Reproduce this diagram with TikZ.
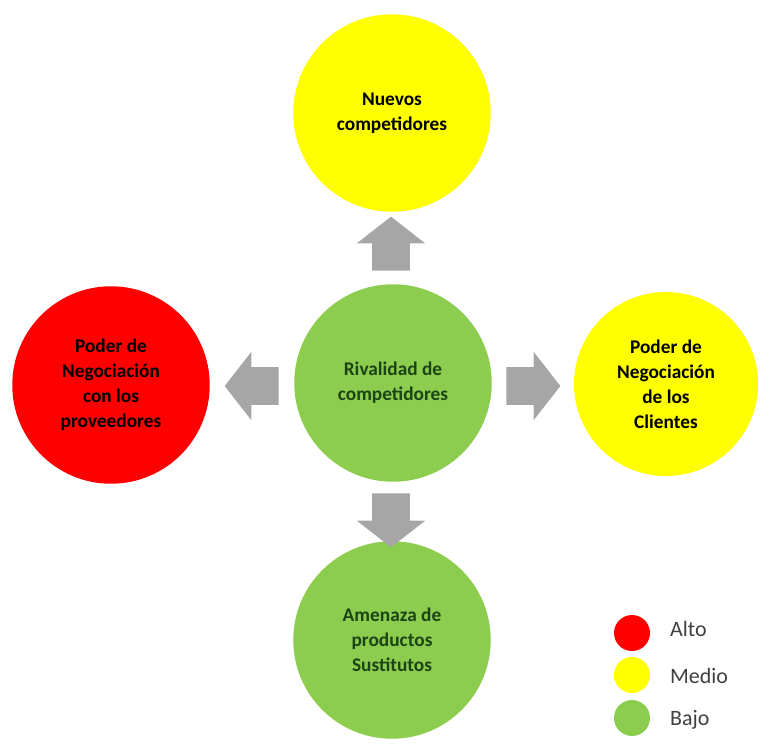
\documentclass[tikz,border=0pt]{standalone}
\usepackage{fontspec}
\setmainfont{Carlito}
\usetikzlibrary{shapes.arrows}
\definecolor{altoRed}{RGB}{255,0,0}
\definecolor{medioYellow}{RGB}{255,255,0}
\definecolor{bajoGreen}{RGB}{140,204,78}
\definecolor{bajoText}{RGB}{28,68,20}
\definecolor{arrowGray}{RGB}{166,166,166}
\definecolor{legendText}{RGB}{64,64,64}

\begin{document}
\begin{tikzpicture}[x=0.02cm,y=-0.02cm,
  force/.style={circle,minimum size=3.95cm,inner sep=0pt,align=center,
    font=\bfseries\fontsize{11}{14.2}\selectfont},
  push/.style={single arrow,fill=arrowGray,minimum height=1.08cm,
    inner xsep=0pt,inner ysep=0.37cm,single arrow head extend=0.31cm,
    single arrow tip angle=104},
  key/.style={circle,minimum size=0.72cm,inner sep=0pt},
  keytext/.style={anchor=west,text=legendText,font=\fontsize{12.5}{14}\selectfont}]
  \useasboundingbox (0,0) rectangle (761,744);
  % the five forces
  \node[force,fill=bajoGreen,text=bajoText] (rival) at (393,383) {Rivalidad de\\competidores};
  \node[force,fill=medioYellow] (nuevos) at (392,113) {Nuevos\\competidores};
  \node[force,fill=altoRed] (prov) at (111,385) {Poder de\\Negociación\\con los\\proveedores};
  \node[force,fill=medioYellow,minimum size=3.68cm] (clientes) at (666,384) {Poder de\\Negociación\\de los\\Clientes};
  \node[force,fill=bajoGreen,text=bajoText] (sust) at (392,640) {Amenaza de\\productos\\Sustitutos};
  % block arrows
  \node[push,rotate=90] (aUp) at (391,251) {};
  \node[push,rotate=180] (aLeft) at (259,386) {};
  \node[push] (aRight) at (526,386) {};
  \node[push,rotate=-90] (aDown) at (391,513) {};
  % legend
  \node[key,fill=altoRed] (kAlto) at (632,633) {};
  \node[key,fill=medioYellow] (kMedio) at (632,675) {};
  \node[key,fill=bajoGreen] (kBajo) at (632,718) {};
  \node[keytext] (tAlto) at (664,629) {Alto};
  \node[keytext] (tMedio) at (664,676) {Medio};
  \node[keytext] (tBajo) at (664,720) {Bajo};
\end{tikzpicture}
\end{document}
